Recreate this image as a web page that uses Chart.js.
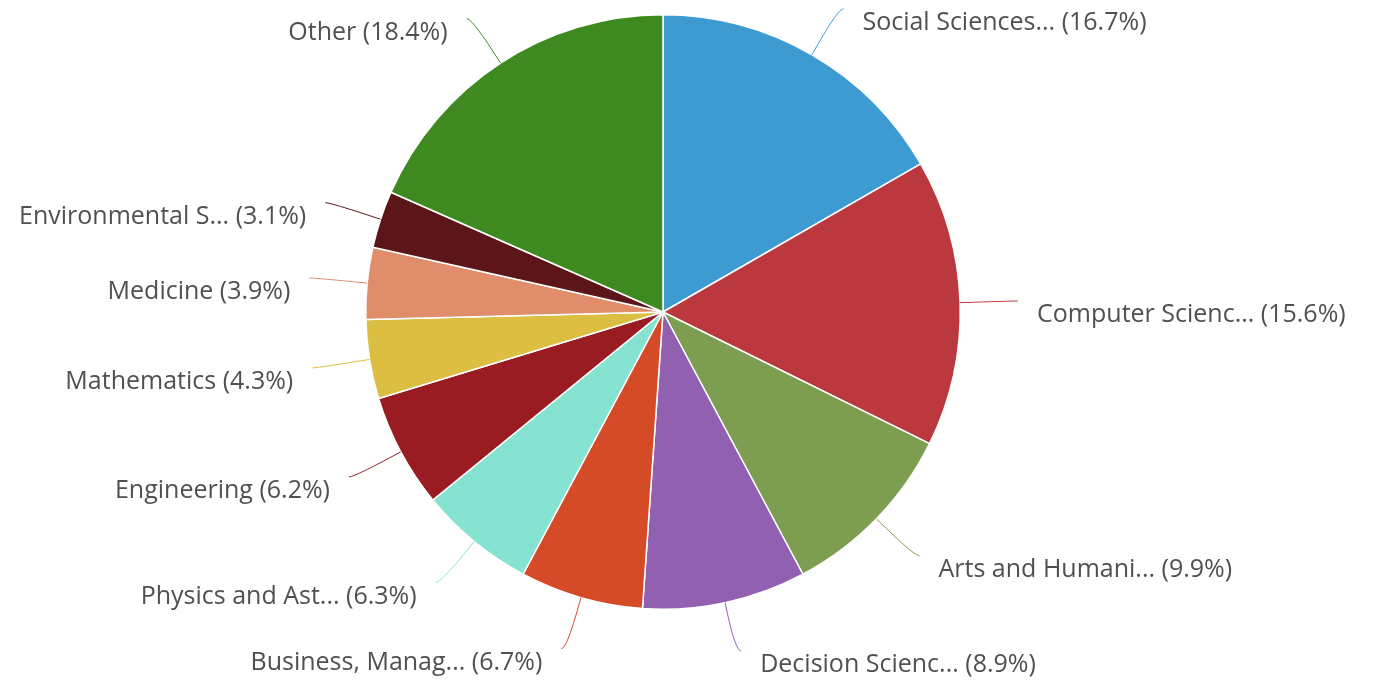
<!DOCTYPE html>
<html>
<head>
<meta charset="utf-8">
<script src="https://cdn.jsdelivr.net/npm/chart.js@4"></script>
<style>
  html, body { margin: 0; padding: 0; background: #fff; }
  #c { display: block; }
</style>
</head>
<body>
<canvas id="c" width="1378" height="683"></canvas>
<script>
// ---- data ----
const categories = [
  'Social Sciences...',
  'Computer Scienc...',
  'Arts and Humani...',
  'Decision Scienc...',
  'Business, Manag...',
  'Physics and Ast...',
  'Engineering',
  'Mathematics',
  'Medicine',
  'Environmental S...',
  'Other'
];
const shares = [16.7, 15.6, 9.9, 8.9, 6.7, 6.3, 6.2, 4.3, 3.9, 3.1, 18.4];
const sliceColors = [
  '#3d9bd1', '#bb383f', '#7d9e50', '#9160b1', '#d54b27', '#87e3d1',
  '#981c22', '#dcbf42', '#e08d6c', '#5c161a', '#3e8a21'
];

// ---- outside labels with soft connectors (pie-style label layout) ----
const outLabels = {
  id: 'outLabels',
  afterDatasetsDraw(chart) {
    const ctx = chart.ctx;
    const meta = chart.getDatasetMeta(0);
    const H = chart.height;
    const labelDist = 53;     // distance of the label anchor beyond the pie edge
    const textPad = 24;       // gap between anchor and text
    const textDrop = 14;      // text centre sits below the connector end
    const breakOff = 12;      // second break of the connector, outside the pie
    const botLim = H - 18;
    ctx.save();
    ctx.font = '25px "Open Sans", "DejaVu Sans", sans-serif';
    ctx.textBaseline = 'middle';
    meta.data.forEach((arc, i) => {
      const p = arc.getProps(['x', 'y', 'startAngle', 'endAngle', 'outerRadius'], true);
      const mid = (p.startAngle + p.endAngle) / 2;
      const cos = Math.cos(mid), sin = Math.sin(mid);
      const right = cos >= 0;
      const side = right ? 1 : -1;
      const R = p.outerRadius + labelDist;
      const ax = p.x + cos * R;
      let ty = p.y + sin * R + textDrop;
      ty = Math.min(botLim, ty);
      const ay = ty - textDrop;
      // connector points
      const ex = p.x + cos * p.outerRadius, ey = p.y + sin * p.outerRadius;
      const bx = p.x + cos * (p.outerRadius + breakOff), by = p.y + sin * (p.outerRadius + breakOff);
      ctx.beginPath();
      ctx.moveTo(ax + side * 5, ay);
      ctx.bezierCurveTo(ax, ay, 2 * bx - ex, 2 * by - ey, bx, by);
      ctx.lineTo(ex, ey);
      ctx.strokeStyle = sliceColors[i];
      ctx.lineWidth = 1;
      ctx.stroke();
      ctx.fillStyle = '#505050';
      ctx.textAlign = right ? 'left' : 'right';
      ctx.fillText(categories[i] + ' (' + shares[i] + '%)', ax + side * textPad, ty);
    });
    ctx.restore();
  }
};

new Chart(document.getElementById('c'), {
  type: 'pie',
  data: {
    labels: categories,
    datasets: [{
      data: shares,
      backgroundColor: sliceColors,
      borderColor: '#ffffff',
      borderWidth: 1.5
    }]
  },
  options: {
    responsive: false,
    animation: false,
    devicePixelRatio: 1,
    layout: { padding: { left: 365, right: 417, top: 14, bottom: 73 } },
    plugins: {
      legend: { display: false },
      tooltip: { enabled: false }
    }
  },
  plugins: [outLabels]
});
</script>
</body>
</html>
